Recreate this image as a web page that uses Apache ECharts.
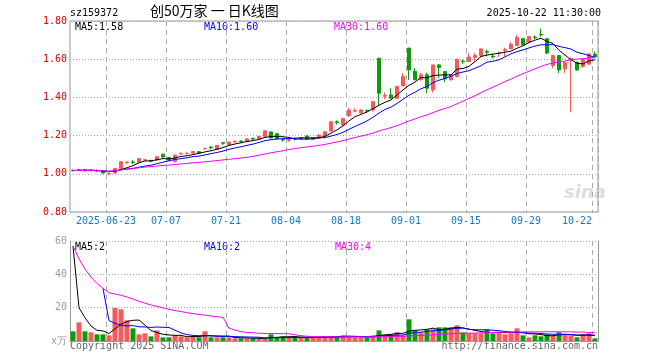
<!DOCTYPE html>
<html><head><meta charset="utf-8">
<script src="https://cdn.jsdelivr.net/npm/echarts@6/dist/echarts.min.js"></script>
<style>html,body{margin:0;padding:0;background:#fff}#c{width:660px;height:360px}</style>
</head><body><div id="c"></div>
<script>
const dates = ['2025-06-13','2025-06-16','2025-06-17','2025-06-18','2025-06-19','2025-06-20','2025-06-23','2025-06-24','2025-06-25','2025-06-26','2025-06-27','2025-06-30',
'2025-07-01','2025-07-02','2025-07-03','2025-07-04','2025-07-07','2025-07-08','2025-07-09','2025-07-10','2025-07-11','2025-07-14','2025-07-15','2025-07-16','2025-07-17','2025-07-18','2025-07-21','2025-07-22','2025-07-23','2025-07-24','2025-07-25','2025-07-28','2025-07-29','2025-07-30','2025-07-31',
'2025-08-01','2025-08-04','2025-08-05','2025-08-06','2025-08-07','2025-08-08','2025-08-11','2025-08-12','2025-08-13','2025-08-14','2025-08-15','2025-08-18','2025-08-19','2025-08-20','2025-08-21','2025-08-22','2025-08-25','2025-08-26','2025-08-27','2025-08-28','2025-08-29',
'2025-09-01','2025-09-02','2025-09-03','2025-09-04','2025-09-05','2025-09-08','2025-09-09','2025-09-10','2025-09-11','2025-09-12','2025-09-15','2025-09-16','2025-09-17','2025-09-18','2025-09-19','2025-09-22','2025-09-23','2025-09-24','2025-09-25','2025-09-26','2025-09-29','2025-09-30',
'2025-10-09','2025-10-10','2025-10-13','2025-10-14','2025-10-15','2025-10-16','2025-10-17','2025-10-20','2025-10-21','2025-10-22'];

const opens = [1.019,1.018,1.022,1.017,1.018,1.012,1.000,1.004,1.028,1.058,1.062,1.062,
1.072,1.070,1.072,1.103,1.085,1.064,1.104,1.106,1.108,1.116,1.131,1.140,1.128,1.163,1.152,1.168,1.171,1.170,1.185,1.183,1.196,1.219,1.210,
1.180,1.176,1.185,1.182,1.198,1.180,1.186,1.196,1.224,1.272,1.255,1.303,1.328,1.320,1.332,1.334,1.605,1.406,1.413,1.395,1.460,
1.658,1.537,1.492,1.518,1.439,1.570,1.535,1.492,1.509,1.590,1.588,1.609,1.619,1.640,1.616,1.630,1.647,1.654,1.672,1.707,1.690,1.716,
1.730,1.707,1.567,1.619,1.549,1.597,1.584,1.562,1.574,1.627];
const closes = [1.017,1.020,1.016,1.020,1.014,1.004,1.002,1.028,1.063,1.061,1.058,1.080,
1.074,1.066,1.090,1.088,1.072,1.098,1.107,1.108,1.117,1.108,1.133,1.137,1.148,1.160,1.166,1.170,1.168,1.183,1.182,1.196,1.225,1.188,1.184,
1.177,1.178,1.182,1.190,1.182,1.186,1.203,1.220,1.273,1.268,1.290,1.334,1.331,1.334,1.329,1.378,1.422,1.410,1.396,1.458,1.509,
1.544,1.492,1.518,1.448,1.570,1.556,1.497,1.518,1.600,1.587,1.611,1.620,1.654,1.636,1.612,1.633,1.650,1.679,1.714,1.675,1.719,1.713,
1.727,1.632,1.619,1.544,1.584,1.605,1.544,1.598,1.627,1.612];
const lows = [1.012,1.015,1.014,1.015,1.008,1.002,0.992,1.002,1.025,1.052,1.050,1.058,
1.068,1.060,1.070,1.085,1.070,1.060,1.100,1.102,1.106,1.104,1.126,1.127,1.126,1.150,1.150,1.163,1.162,1.168,1.176,1.180,1.194,1.185,1.180,
1.168,1.168,1.175,1.178,1.178,1.176,1.184,1.192,1.222,1.258,1.250,1.300,1.322,1.316,1.320,1.326,1.360,1.390,1.392,1.392,1.458,
1.492,1.490,1.488,1.422,1.425,1.500,1.480,1.488,1.505,1.575,1.585,1.588,1.610,1.615,1.604,1.612,1.615,1.652,1.670,1.672,1.686,1.705,
1.718,1.626,1.553,1.527,1.527,1.322,1.540,1.555,1.570,1.608];
const highs = [1.022,1.024,1.023,1.022,1.023,1.013,1.006,1.030,1.066,1.068,1.072,1.082,
1.078,1.074,1.092,1.106,1.087,1.100,1.112,1.112,1.120,1.118,1.136,1.146,1.150,1.166,1.168,1.174,1.176,1.185,1.190,1.198,1.227,1.222,1.212,
1.186,1.184,1.190,1.193,1.200,1.188,1.205,1.222,1.275,1.280,1.293,1.346,1.343,1.338,1.336,1.380,1.608,1.425,1.448,1.460,1.527,
1.660,1.553,1.527,1.530,1.572,1.575,1.538,1.520,1.602,1.598,1.632,1.632,1.656,1.650,1.630,1.640,1.660,1.690,1.726,1.712,1.722,1.725,
1.760,1.708,1.621,1.621,1.586,1.607,1.586,1.600,1.630,1.640];

const volumes = [5.8,11.2,5.8,5.2,4,4,3.4,19.8,19,12.4,
7.6,4,4.6,2.8,6.4,2.2,2.2,3.4,2.8,2.2,
2.8,2.2,5.8,2.2,2.2,2.2,2.2,1.6,1.6,1.6,
1.6,1.6,1.6,4,2.2,2.8,2.2,2.2,2.2,2.2,
2.2,2.2,2.8,2.8,2.8,3.4,2.8,2.2,2.2,2.2,
3.4,6.4,4,4,5.2,3.4,13,6.4,5.2,7,
7,8.2,8.2,8.2,9.4,5.2,4.6,4.6,4.6,7,
4.6,5.2,4,4.6,7.6,3.4,2.2,3.4,2.8,4,
3.4,5.2,3.4,3.4,2.2,4,4.6,1.6];
const priorVolumes = [196,36,30,17];

const labelDates = ['2025-06-23','2025-07-07','2025-07-21','2025-08-04','2025-08-18','2025-09-01','2025-09-15','2025-09-29','2025-10-22'];
const priceMaTexts = ['MA5:1.58','MA10:1.60','MA30:1.60'];
const volMaTexts = ['MA5:2','MA10:2','MA30:4'];

const RED = '#f65a5a', GREEN = '#0b9b0b';
const MONO = '"DejaVu Sans Mono", "Liberation Mono", monospace';

function ma(vals, prior, n, partial) {
  const all = prior.concat(vals);
  return vals.map((_, i) => {
    const j = i + prior.length;
    const start = j - n + 1;
    if (start < 0 && !partial) return null;
    const s = Math.max(0, start);
    let sum = 0;
    for (let k = s; k <= j; k++) sum += all[k];
    return +(sum / (j - s + 1)).toFixed(4);
  });
}

const kdata = dates.map((d, i) => [opens[i], closes[i], lows[i], highs[i]]);
const volData = volumes.map((v, i) => ({ value: v, itemStyle: { color: closes[i] >= opens[i] ? RED : GREEN } }));
const isLabel = (idx) => labelDates.indexOf(dates[idx]) >= 0;
const lastDate = labelDates[labelDates.length - 1];

const chart = echarts.init(document.getElementById('c'), null, { renderer: 'canvas' });
const lineS = (name, data, color, xi, yi) => ({
  type: 'line', name, data, xAxisIndex: xi, yAxisIndex: yi, showSymbol: false, symbol: 'none',
  lineStyle: { width: 1, color }, itemStyle: { color }, silent: true, animation: false, connectNulls: false
});
const splitX = { show: true, interval: (i) => isLabel(i), lineStyle: { color: '#aaa', type: [5, 4], width: 1 } };
const frame = { show: true, lineStyle: { color: '#999', width: 1 } };

chart.setOption({
  animation: false,
  backgroundColor: '#fff',
  grid: [
    { left: 70, top: 21, width: 528, height: 191, show: true, borderColor: '#999', borderWidth: 1 },
    { left: 70, top: 241, width: 528, height: 100, show: false }
  ],
  xAxis: [
    { type: 'category', data: dates, gridIndex: 0, boundaryGap: true,
      axisLine: { show: false }, axisTick: { show: false },
      axisLabel: { interval: (i) => isLabel(i), margin: 4, color: '#1677c9', fontFamily: MONO, fontSize: 10,
        formatter: (v) => v === lastDate ? '{e|' + v.slice(5) + '}' : (v === labelDates[0] ? '{n|' + v + '}' : '{n|' + v.slice(5) + '}'),
        rich: { n: { padding: [0, 6, 0, 0], color: '#1677c9', fontFamily: MONO, fontSize: 10 },
                e: { padding: [0, 36, 0, 0], color: '#1677c9', fontFamily: MONO, fontSize: 10 } } },
      splitLine: splitX },
    { type: 'category', data: dates, gridIndex: 1, boundaryGap: true, position: 'top',
      axisLine: frame, axisTick: { show: false }, axisLabel: { show: false },
      splitLine: splitX }
  ],
  yAxis: [
    { type: 'value', gridIndex: 0, min: 0.8, max: 1.8, interval: 0.2,
      axisLine: { show: false }, axisTick: { show: false },
      axisLabel: { color: '#e00000', fontFamily: MONO, fontSize: 10, margin: 3, formatter: (v) => v.toFixed(2) },
      splitLine: { show: true, lineStyle: { color: '#aaa', type: [1, 2], width: 1 } } },
    { type: 'value', gridIndex: 1, min: 0, max: 60, interval: 20, position: 'left',
      axisLine: frame, axisTick: { show: false },
      axisLabel: { color: '#999', fontFamily: MONO, fontSize: 10, margin: 3, formatter: (v) => v === 0 ? 'x万' : String(v) },
      splitLine: { show: true, lineStyle: { color: '#aaa', type: [1, 2], width: 1 } } },
    { type: 'value', gridIndex: 1, min: 0, max: 60, interval: 20, position: 'right',
      axisLine: frame, axisTick: { show: false }, axisLabel: { show: false }, splitLine: { show: false } }
  ],
  series: [
    { type: 'candlestick', data: kdata, xAxisIndex: 0, yAxisIndex: 0, barWidth: 4,
      itemStyle: { color: RED, color0: GREEN, borderColor: RED, borderColor0: GREEN, borderWidth: 1 } },
    lineS('MA5', ma(closes, [], 5, true), '#000', 0, 0),
    lineS('MA10', ma(closes, [], 10, true), '#0000ff', 0, 0),
    lineS('MA30', ma(closes, [], 30, true), '#ff00ff', 0, 0),
    { type: 'bar', data: volData, xAxisIndex: 1, yAxisIndex: 1, barWidth: 5 },
    lineS('VMA5', ma(volumes, priorVolumes, 5, false), '#000', 1, 1),
    lineS('VMA10', ma(volumes, priorVolumes, 10, false), '#0000ff', 1, 1),
    lineS('VMA30', ma(volumes, priorVolumes, 30, true), '#ff00ff', 1, 1)
  ],
  graphic: [
    { type: 'text', left: 70, top: 8, style: { text: 'sz159372', fill: '#000', font: '10px ' + MONO } },
    { type: 'text', left: 150, top: 4, style: { text: '创50万家 一 日K线图', fill: '#000', font: '14px "Noto Sans CJK SC"' } },
    { type: 'text', right: 59, top: 8, style: { text: '2025-10-22 11:30:00', fill: '#000', font: '10px ' + MONO } },
    { type: 'text', left: 75, top: 22, style: { text: priceMaTexts[0], fill: '#000', font: '10px ' + MONO } },
    { type: 'text', left: 204, top: 22, style: { text: priceMaTexts[1], fill: '#0000ff', font: '10px ' + MONO } },
    { type: 'text', left: 334, top: 22, style: { text: priceMaTexts[2], fill: '#ff00ff', font: '10px ' + MONO } },
    { type: 'text', left: 75, top: 242, style: { text: volMaTexts[0], fill: '#000', font: '10px ' + MONO } },
    { type: 'text', left: 204, top: 242, style: { text: volMaTexts[1], fill: '#0000ff', font: '10px ' + MONO } },
    { type: 'text', left: 335, top: 242, style: { text: volMaTexts[2], fill: '#ff00ff', font: '10px ' + MONO } },
    { type: 'text', left: 70, top: 341, style: { text: 'Copyright 2025 SINA.COM', fill: '#666', font: '10px ' + MONO } },
    { type: 'text', right: 62, top: 341, style: { text: 'http://finance.sina.com.cn', fill: '#666', font: '10px ' + MONO } },
    { type: 'text', left: 564, top: 184, z: -1, style: { text: 'sina', fill: '#dcdcdc', font: 'italic bold 18px "DejaVu Sans"' } }
  ]
});
</script></body></html>
